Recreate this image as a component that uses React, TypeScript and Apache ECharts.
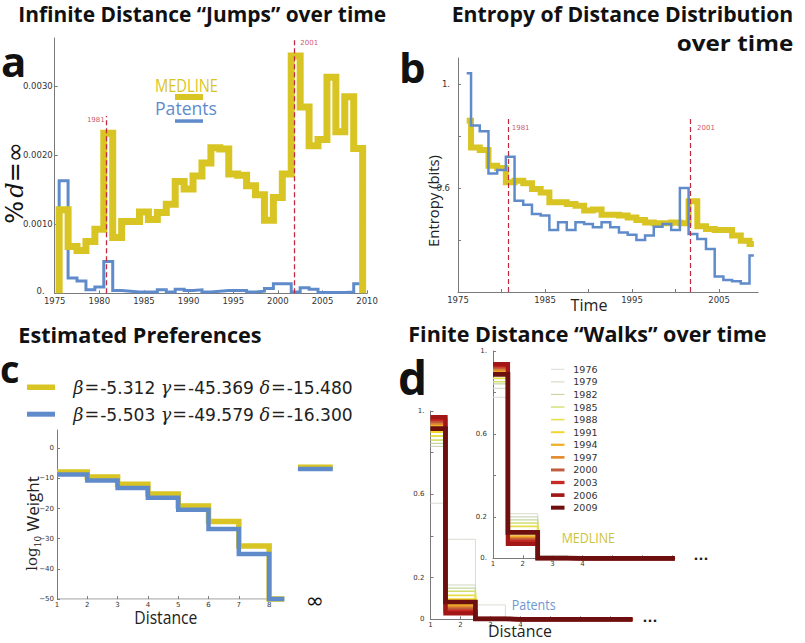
import React, { useEffect, useRef } from "react";
import * as echarts from "echarts";

const YELLOW = "#d8c523";
const BLUE = "#5f8bcb";
const RED = "#c02a3f";
const AXIS_GRAY = "#7a7a7a";
const LABEL = "#333333";
const SANS = "DejaVu Sans";
const SERIF = "DejaVu Serif";
const HEAD = "Open Sans";

// ---------- Panel a: infinite distance jumps ----------
const years = [1976, 1977, 1978, 1979, 1980, 1981, 1982, 1983, 1984, 1985, 1986, 1987, 1988, 1989, 1990, 1991, 1992,
  1993, 1994, 1995, 1996, 1997, 1998, 1999, 2000, 2001, 2002, 2003, 2004, 2005, 2006, 2007, 2008, 2009];
const medlineJumps = [0.00121, 0.00068, 0.00062, 0.00075, 0.00093, 0.00232, 0.00081, 0.00104, 0.00104, 0.00118,
  0.00107, 0.00117, 0.00129, 0.00162, 0.00151, 0.0017, 0.00189, 0.00211, 0.00209, 0.00173, 0.00171, 0.00156,
  0.00143, 0.00106, 0.00139, 0.00173, 0.00344, 0.0027, 0.00214, 0.00223, 0.00313, 0.00234, 0.00285, 0.0021];
const patentJumps = [0.00163, 0.00022, 0.00018, 0.00005, 0.00009, 0.00046, 0.00004, 0.00003, 0.00002, 0.00002,
  0.00002, 0.00005, 0.00002, 0.00006, 0.00004, 0.00005, 0.00002, 0.00003, 0.00004, 0.00004, 0.00004, 0.00002,
  0.00003, 0.00007, 0.00014, 0.00014, 0.00002, 0.00008, 0.00006, 0.00001, 0.00001, 0.00001, 0.00002, 0.00014];
const jumpYTicks = [0, 0.001, 0.002, 0.003];
const jumpYLabels = ["0.", "0.0010", "0.0020", "0.0030"];
const jumpXTicks = [1975, 1980, 1985, 1990, 1995, 2000, 2005, 2010];
const jumpXLabels = ["1975", "1980", "1985", "1990", "1995", "2000", "2005", "2010"];
const eventLabels = ["1981", "2001"];
const jumpEventX = [1980.83, 2001.85];
const jumpEventTop = [0.00257, 0.0037];
const jumpEventLabelY = [0.00251, 0.00363];

// ---------- Panel b: entropy ----------
const medlineEntropy = [0.859, 0.756, 0.746, 0.686, 0.677, 0.622, 0.628, 0.618, 0.596, 0.583, 0.545, 0.545, 0.538,
  0.532, 0.513, 0.517, 0.497, 0.497, 0.494, 0.487, 0.477, 0.467, 0.464, 0.464, 0.467, 0.464, 0.549, 0.453, 0.442,
  0.438, 0.438, 0.417, 0.397, 0.385];
const patentEntropy = [1.041, 0.84, 0.818, 0.656, 0.669, 0.72, 0.551, 0.536, 0.5, 0.494, 0.438, 0.468, 0.438, 0.468,
  0.462, 0.449, 0.468, 0.449, 0.429, 0.42, 0.4, 0.417, 0.451, 0.462, 0.438, 0.6, 0.423, 0.404, 0.365, 0.26, 0.246,
  0.241, 0.233, 0.34];
const entropyYTicks = [0.4, 0.6, 0.8, 1.0];
const entropyYLabelValues = [0.6, 1.0];
const entropyYLabels = ["0.6", "1."];
const entropyXTicks = [1975, 1980, 1985, 1990, 1995, 2000, 2005];
const entropyXLabelValues = [1975, 1985, 1995, 2005];
const entropyXLabels = ["1975", "1985", "1995", "2005"];
const entropyEventX = [1980.83, 2001.67];
const entropyEventTop = [0.868, 0.868];
const entropyEventLabelY = [0.83, 0.83];

// ---------- Panel c: estimated preferences ----------
const distances = [1, 2, 3, 4, 5, 6, 7, 8];
const medlinePref = [-7.9, -9.6, -12.0, -15.2, -19.2, -24.3, -32.4, -50];
const patentPref = [-8.7, -10.7, -13.2, -16.4, -20.4, -26.8, -35.1, -50];
const prefAxisEnd = 8.5;
const prefFloor = -50;
const infinitySpan = [8.95, 10.1];
const medlineInf = -6.3;
const patentInf = -6.9;
const prefYTicks = [-50, -40, -30, -20, -10, 0];
const prefYLabels = ["\u221250", "\u221240", "\u221230", "\u221220", "\u221210", "0"];
const prefXLabels = ["1", "2", "3", "4", "5", "6", "7", "8"];
const paramNames = ["\u03b2", "\u03b3", "\u03b4"];
const medlineParams = ["-5.312", "-45.369", "-15.480"];
const patentParams = ["-5.503", "-49.579", "-16.300"];

// ---------- Panel d: finite distance walks ----------
const walkYears = [1976, 1979, 1982, 1985, 1988, 1991, 1994, 1997, 2000, 2003, 2006, 2009];
const walkColors = ["#d9ddd3", "#cfd8c0", "#c5d5a0", "#d2df6e", "#e6e04a", "#f3d52a", "#eeb12c", "#e4892c",
  "#bf5d3c", "#c72a22", "#a31616", "#6e0f0f"];
const walkWidths = [1, 1.1, 1.3, 1.6, 1.9, 2.3, 2.7, 3.1, 3.5, 3.9, 4.3, 4.7];
const patentWalkD1 = [0.557, 0.83, 0.845, 0.86, 0.88, 0.9, 0.93, 0.94, 0.95, 0.96, 0.97, 0.915];
const patentWalkD2 = [0.384, 0.165, 0.15, 0.135, 0.115, 0.095, 0.068, 0.058, 0.048, 0.038, 0.028, 0.083];
const patentWalkD3 = [0.069, 0.008, 0.006, 0.005, 0.004, 0.003, 0.002, 0.002, 0.002, 0.002, 0.002, 0.002];
const medlineWalkD1 = [0.777, 0.82, 0.841, 0.852, 0.868, 0.89, 0.9, 0.91, 0.92, 0.93, 0.937, 0.887];
const medlineWalkD2 = [0.215, 0.2, 0.185, 0.17, 0.154, 0.12, 0.105, 0.095, 0.088, 0.08, 0.07, 0.125];
const medlineWalkD3 = [0.013, 0.008, 0.006, 0.005, 0.004, 0.003, 0.002, 0.001, 0.001, 0.001, 0.001, 0.001];
const patentTailEnd = 7.74;
const medlineTailEnd = 7.1;
const walkYTicks = [0, 0.2, 0.4, 0.6, 0.8, 1.0];
const walkYLabelValues = [0, 0.2, 0.6, 1.0];
const patentWalkYLabels = ["0", "0.2", "0.6", "1."];
const medlineWalkYLabels = ["0.", "0.2", "0.6", "1."];
const walkXTicks = [1, 2, 3, 4, 5, 6, 7];
const walkXLabelValues = [1, 2, 3, 4];
const walkXLabels = ["1", "2", "3", "4"];

// ---------- helpers ----------
const measureCanvas = typeof document !== "undefined" ? document.createElement("canvas") : null;
function fitScale(text: string, size: number, weight: string, family: string, width: number): number {
  const ctx = measureCanvas ? measureCanvas.getContext("2d") : null;
  if (!ctx) return 1;
  ctx.font = `${weight} ${size}px "${family}"`;
  const w = ctx.measureText(text).width;
  return w > 0 ? width / w : 1;
}

function tickFormatter(values: number[], labels: string[], zeroRich = false) {
  return (v: number) => {
    const i = values.findIndex((t) => Math.abs(t - v) < 1e-9);
    if (i < 0) return "";
    return zeroRich && Math.abs(v) < 1e-12 ? `{z|${labels[i]}}` : labels[i];
  };
}

function makeAxis(gridIndex: number, min: number, max: number, ticks: number[], labelValues: number[],
  labels: string[], fontSize: number, margin: number, showLine = true, zeroRich = false) {
  return {
    type: "value",
    gridIndex,
    min,
    max,
    axisLine: { show: showLine, onZero: false, lineStyle: { color: AXIS_GRAY, width: 1 } },
    axisTick: { show: true, inside: true, length: 3, customValues: ticks, lineStyle: { color: AXIS_GRAY } },
    axisLabel: {
      show: true,
      customValues: labelValues,
      formatter: tickFormatter(labelValues, labels, zeroRich),
      fontSize,
      fontFamily: SANS,
      color: LABEL,
      margin,
      rich: { z: { fontSize, fontFamily: SANS, color: LABEL, padding: [0, 8, 5, 0] } },
    },
    splitLine: { show: false },
    axisPointer: { show: false },
  };
}

function fittedText(text: string, x: number, y: number, size: number, weight: string, family: string,
  width: number, fill: string, align: string, rotation = 0) {
  return {
    type: "text",
    x,
    y,
    rotation,
    silent: true,
    scaleX: fitScale(text, size, weight, family, width),
    style: {
      text,
      fontSize: size,
      fontWeight: weight,
      fontFamily: family,
      fill,
      textAlign: align,
      textVerticalAlign: "middle",
    },
  };
}

function plainText(text: string, x: number, y: number, size: number, weight: string, family: string,
  fill: string, align = "left", lineHeight?: number) {
  return {
    type: "text",
    x,
    y,
    silent: true,
    style: {
      text, fontSize: size, fontWeight: weight, fontFamily: family, fill, textAlign: align,
      textVerticalAlign: "middle", lineHeight: lineHeight ?? size,
    },
  };
}

function buildOption() {
  const histData = (vals: number[]) => [
    [years[0] - 0.5, 0],
    ...years.map((y, i) => [y - 0.5, vals[i]]),
    [years[years.length - 1] + 0.5, 0],
  ];
  const prefData = (vals: number[]) => [...distances.map((d, i) => [d, vals[i]]), [prefAxisEnd, prefFloor]];
  const walkData = (d1: number, d2: number, d3: number, tail: number) => [[1, d1], [2, d2], [3, d3], [4, 0], [tail, 0]];

  const series: any[] = [
    // panel a
    {
      type: "line", name: "Patents", xAxisIndex: 0, yAxisIndex: 0, step: "end", symbol: "none",
      data: histData(patentJumps), lineStyle: { color: BLUE, width: 3, join: "miter" }, z: 2, silent: true,
    },
    {
      type: "line", name: "MEDLINE", xAxisIndex: 0, yAxisIndex: 0, step: "end", symbol: "none",
      data: histData(medlineJumps), lineStyle: { color: YELLOW, width: 7, join: "miter" }, z: 3, silent: true,
    },
    {
      type: "scatter", xAxisIndex: 0, yAxisIndex: 0, symbolSize: 0, silent: true, z: 10,
      data: jumpEventX.map((x, i) => ({
        value: [x, jumpEventLabelY[i]],
        label: { position: i === 0 ? "left" : "right", distance: i === 0 ? 2 : 6 },
      })),
      label: { show: true, formatter: (p: any) => eventLabels[p.dataIndex], color: RED, fontSize: 7, fontFamily: SANS },
      markLine: {
        silent: true, symbol: "none", label: { show: false },
        lineStyle: { color: RED, type: [5, 3], width: 1.3 },
        data: jumpEventX.map((x, i) => [{ coord: [x, 0] }, { coord: [x, jumpEventTop[i]] }]),
      },
    },
    // panel b
    {
      type: "line", name: "MEDLINE", xAxisIndex: 1, yAxisIndex: 1, step: "middle", symbol: "none",
      data: years.map((y, i) => [y, medlineEntropy[i]]), lineStyle: { color: YELLOW, width: 6, join: "miter" }, z: 2, silent: true,
    },
    {
      type: "line", name: "Patents", xAxisIndex: 1, yAxisIndex: 1, step: "middle", symbol: "none",
      data: years.map((y, i) => [y, patentEntropy[i]]), lineStyle: { color: BLUE, width: 2.5, join: "miter" }, z: 3, silent: true,
    },
    {
      type: "scatter", xAxisIndex: 1, yAxisIndex: 1, symbolSize: 0, silent: true, z: 10,
      data: entropyEventX.map((x, i) => ({
        value: [x, entropyEventLabelY[i]],
        label: { position: "right", distance: i === 0 ? 3 : 7 },
      })),
      label: { show: true, formatter: (p: any) => eventLabels[p.dataIndex], color: RED, fontSize: 7, fontFamily: SANS },
      markLine: {
        silent: true, symbol: "none", label: { show: false },
        lineStyle: { color: RED, type: [5, 3], width: 1.2 },
        data: entropyEventX.map((x, i) => [{ coord: [x, 0.2] }, { coord: [x, entropyEventTop[i]] }]),
      },
    },
    // panel c
    {
      type: "line", xAxisIndex: 2, yAxisIndex: 2, symbol: "none", silent: true, z: 1,
      data: [[distances[0], prefFloor], [prefAxisEnd, prefFloor]], lineStyle: { color: AXIS_GRAY, width: 1 },
    },
    {
      type: "line", name: "MEDLINE", xAxisIndex: 2, yAxisIndex: 2, step: "end", symbol: "none", clip: false,
      data: prefData(medlinePref), lineStyle: { color: YELLOW, width: 5.5, join: "miter" }, z: 2, silent: true,
    },
    {
      type: "line", name: "Patents", xAxisIndex: 2, yAxisIndex: 2, step: "end", symbol: "none", clip: false,
      data: prefData(patentPref), lineStyle: { color: BLUE, width: 4.5, join: "miter" }, z: 3, silent: true,
    },
    {
      type: "line", xAxisIndex: 2, yAxisIndex: 2, symbol: "none", clip: false, silent: true, z: 2,
      data: infinitySpan.map((x) => [x, medlineInf]), lineStyle: { color: YELLOW, width: 5.5 },
    },
    {
      type: "line", xAxisIndex: 2, yAxisIndex: 2, symbol: "none", clip: false, silent: true, z: 3,
      data: infinitySpan.map((x) => [x, patentInf]), lineStyle: { color: BLUE, width: 4.5 },
    },
  ];

  walkYears.forEach((yr, i) => {
    series.push({
      type: "line", name: "P" + yr, xAxisIndex: 3, yAxisIndex: 3, step: "middle", symbol: "none", clip: false,
      silent: true, z: 2,
      data: walkData(patentWalkD1[i], patentWalkD2[i], patentWalkD3[i], patentTailEnd),
      lineStyle: { color: walkColors[i], width: walkWidths[i], join: "miter" },
    });
  });
  walkYears.forEach((yr, i) => {
    series.push({
      type: "line", name: "M" + yr, xAxisIndex: 4, yAxisIndex: 4, step: "middle", symbol: "none", clip: false,
      silent: true, z: 2,
      data: walkData(medlineWalkD1[i], medlineWalkD2[i], medlineWalkD3[i], medlineTailEnd),
      lineStyle: { color: walkColors[i], width: walkWidths[i], join: "miter" },
    });
  });

  const grids = [
    { left: 54.7, top: 38, width: 312.4, height: 255.3 },
    { left: 458, top: 58, width: 300.2, height: 234 },
    { left: 57, top: 430, width: 278.8, height: 169.1 },
    { left: 430.5, top: 411, width: 202.2, height: 208.3 },
    { left: 493, top: 351, width: 181.8, height: 207.3 },
  ].map((g) => ({ ...g, containLabel: false, outerBoundsMode: "none", show: false }));

  const xAxis = [
    makeAxis(0, 1975, 2010, jumpXTicks, jumpXTicks, jumpXLabels, 8.5, 3),
    makeAxis(1, 1975, 2009.5, entropyXTicks, entropyXLabelValues, entropyXLabels, 8.5, 3),
    makeAxis(2, 1, 10.2, distances, distances, prefXLabels, 7, 2, false),
    makeAxis(3, 1, 7.75, walkXTicks, walkXLabelValues, walkXLabels, 7, 2),
    makeAxis(4, 1, 7.1, walkXTicks, walkXLabelValues, walkXLabels, 7, 2),
  ];
  const yAxis = [
    makeAxis(0, 0, 0.0037, jumpYTicks, jumpYTicks, jumpYLabels, 8.5, 2, true, true),
    makeAxis(1, 0.2, 1.1, entropyYTicks, entropyYLabelValues, entropyYLabels, 8.5, 8),
    makeAxis(2, -50, 6, prefYTicks, prefYTicks, prefYLabels, 7, 3),
    makeAxis(3, 0, 1, walkYTicks, walkYLabelValues, patentWalkYLabels, 7, 6),
    makeAxis(4, 0, 1, walkYTicks, walkYLabelValues, medlineWalkYLabels, 7, 6),
  ];

  const paramRich = (vals: string[]) =>
    paramNames.map((g, i) => `{g|${g}}{e|=}{n|${vals[i]}}`).join("{n| }");
  const richStyles = {
    g: { fontFamily: SERIF, fontStyle: "italic", fontSize: 17.6, fill: "#222" },
    e: { fontFamily: SERIF, fontSize: 17.6, fill: "#222", padding: [0, 1, 0, 1] },
    n: { fontFamily: SANS, fontSize: 17.1, fill: "#222" },
  };

  const graphic: any[] = [
    // titles
    fittedText("Infinite Distance \u201cJumps\u201d over time", 18.3, 14, 21, "bold", HEAD, 368, "#111", "left"),
    fittedText("Entropy of Distance Distribution", 793.3, 14, 21, "bold", HEAD, 341.6, "#111", "right"),
    fittedText("over time", 793.3, 43, 21, "bold", HEAD, 116.6, "#111", "right"),
    fittedText("Estimated Preferences", 18.3, 335, 21, "bold", HEAD, 243.4, "#111", "left"),
    fittedText("Finite Distance \u201cWalks\u201d over time", 408.3, 333.3, 21, "bold", HEAD, 358.3, "#111", "left"),
    // panel letters
    plainText("a", 1, 60, 42, "bold", HEAD, "#111", "left", 30),
    plainText("b", 399, 66, 42, "bold", HEAD, "#111", "left", 34),
    plainText("c", 0, 368, 38, "bold", HEAD, "#111", "left", 28),
    plainText("d", 398, 377, 46, "bold", HEAD, "#111", "left", 36),
    // panel a y label
    {
      type: "text", x: 15, y: 183, rotation: Math.PI / 2, silent: true,
      style: {
        text: "{p|%} {d|d}{p|=\u221e}", textAlign: "center", textVerticalAlign: "middle",
        rich: {
          p: { fontFamily: SANS, fontSize: 24, fill: "#111" },
          d: { fontFamily: SERIF, fontStyle: "italic", fontSize: 24, fill: "#111" },
        },
      },
    },
    // panel a legend
    fittedText("MEDLINE", 186.5, 84.5, 18, "normal", HEAD, 63, YELLOW, "center"),
    { type: "rect", silent: true, shape: { x: 175, y: 94, width: 28, height: 6 }, style: { fill: YELLOW } },
    fittedText("Patents", 186, 108, 18, "normal", HEAD, 62, BLUE, "center"),
    { type: "rect", silent: true, shape: { x: 175, y: 119.3, width: 28, height: 3.5 }, style: { fill: BLUE } },
    // panel b labels
    fittedText("Entropy (bits)", 433, 201, 15, "normal", HEAD, 92, "#222", "center", Math.PI / 2),
    fittedText("Time", 589, 304, 17, "normal", HEAD, 37, "#222", "center"),
    // panel c legend
    { type: "rect", silent: true, shape: { x: 27, y: 384.5, width: 28, height: 5.5 }, style: { fill: YELLOW } },
    { type: "rect", silent: true, shape: { x: 27, y: 411.7, width: 28, height: 5 }, style: { fill: BLUE } },
    {
      type: "text", x: 73.3, y: 387.5, silent: true,
      style: { text: paramRich(medlineParams), rich: richStyles, textVerticalAlign: "middle" },
    },
    {
      type: "text", x: 73.3, y: 414.5, silent: true,
      style: { text: paramRich(patentParams), rich: richStyles, textVerticalAlign: "middle" },
    },
    plainText("\u221e", 315, 600, 22, "normal", SANS, "#111", "center"),
    fittedText("Distance", 165.8, 617, 18, "normal", HEAD, 63, "#222", "center"),
    {
      type: "text", x: 32, y: 523.5, rotation: Math.PI / 2, silent: true,
      style: {
        text: "{s|log}{b|10}{w| Weight}", textAlign: "center", textVerticalAlign: "middle",
        rich: {
          s: { fontFamily: SERIF, fontSize: 15, fill: "#222", lineHeight: 20 },
          b: { fontFamily: SERIF, fontSize: 9, fill: "#222", lineHeight: 12, verticalAlign: "bottom" },
          w: { fontFamily: HEAD, fontSize: 17, fill: "#222", lineHeight: 20 },
        },
      },
    },
    // panel d
    fittedText("MEDLINE", 588.3, 537.3, 14, "normal", HEAD, 53.3, "#cbc33b", "center"),
    fittedText("Patents", 533.7, 605, 14, "normal", HEAD, 44, "#7096d0", "center"),
    plainText("...", 650, 617, 13, "bold", SANS, "#222", "center"),
    plainText("...", 701, 555.5, 13, "bold", SANS, "#222", "center"),
    fittedText("Distance", 520, 631, 16, "normal", HEAD, 64, "#222", "center"),
  ];

  walkYears.forEach((yr, i) => {
    const y = 369.3 + i * 12.58;
    graphic.push({
      type: "line", silent: true,
      shape: { x1: 551, y1: y, x2: 564.5, y2: y },
      style: { stroke: walkColors[i], lineWidth: Math.max(1, walkWidths[i] * 0.85) },
    });
    graphic.push(plainText(String(yr), 573.3, y, 9.5, "normal", SANS, LABEL));
  });

  return {
    animation: false,
    backgroundColor: "#ffffff",
    grid: grids,
    xAxis,
    yAxis,
    series,
    graphic,
  };
}

export default function App() {
  const ref = useRef<HTMLDivElement>(null);
  useEffect(() => {
    document.body.style.margin = "0";
    if (!ref.current) return;
    const chart = echarts.init(ref.current, null, { renderer: "svg", width: 805, height: 643 });
    chart.setOption(buildOption() as any);
    return () => {
      chart.dispose();
    };
  }, []);
  return <div ref={ref} style={{ width: 805, height: 643, background: "#fff" }} />;
}
